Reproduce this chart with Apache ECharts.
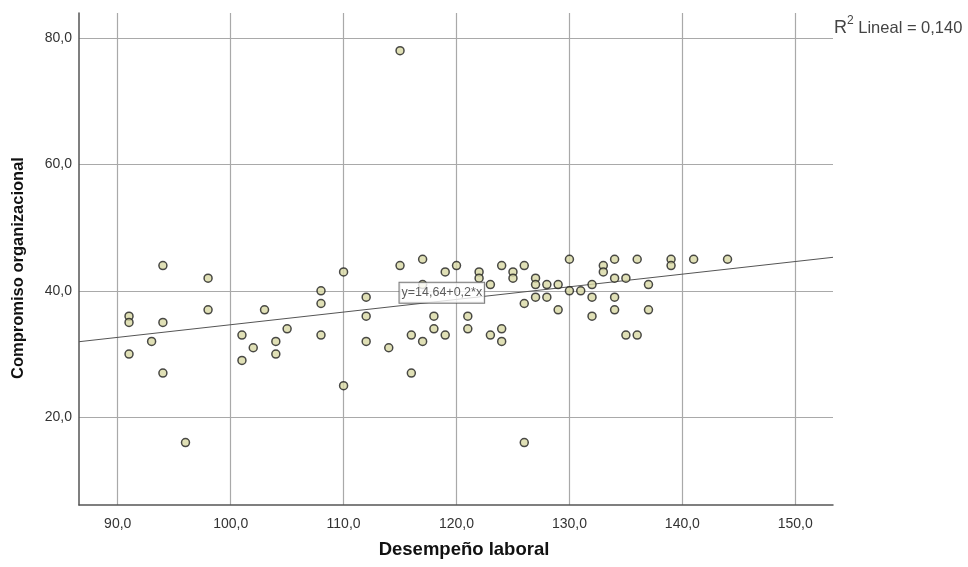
<!DOCTYPE html>
<html>
<head>
<meta charset="utf-8">
<title>Compromiso organizacional vs Desempeño laboral</title>
<script src="https://cdn.jsdelivr.net/npm/echarts@6/dist/echarts.min.js"></script>
<style>
  html, body { margin: 0; padding: 0; background: #ffffff; }
  #chart { width: 968px; height: 567px; }
</style>
</head>
<body>
<div id="chart"></div>
<script>
// Desempeño laboral (x) per respondent
const desempeno = [
  91, 91, 91, 93, 94, 94, 94, 96, 98, 98,
  101, 101, 102, 103, 104, 104, 105, 108, 108, 108,
  110, 110, 112, 112, 112, 114, 115, 115, 116, 116,
  117, 117, 117, 118, 118, 119, 119, 120, 121, 121,
  122, 122, 123, 123, 124, 124, 124, 125, 125, 126,
  126, 126, 127, 127, 127, 128, 128, 129, 129, 130,
  130, 131, 132, 132, 132, 133, 133, 134, 134, 134,
  134, 135, 135, 136, 136, 137, 137, 139, 139, 141,
  144
];
// Compromiso organizacional (y) per respondent
const compromiso = [
  36, 35, 30, 32, 44, 35, 27, 16, 42, 37,
  33, 29, 31, 37, 32, 30, 34, 40, 38, 33,
  43, 25, 39, 36, 32, 31, 78, 44, 33, 27,
  45, 41, 32, 36, 34, 43, 33, 44, 36, 34,
  43, 42, 41, 33, 44, 34, 32, 43, 42, 44,
  38, 16, 42, 41, 39, 41, 39, 41, 37, 45,
  40, 40, 41, 39, 36, 44, 43, 45, 42, 39,
  37, 42, 33, 45, 33, 41, 37, 45, 44, 45,
  45
];

// Axis tick labels
const xTicks = [90, 100, 110, 120, 130, 140, 150];
const yTicks = [20, 40, 60, 80];

// Linear fit: y = intercept + slope * x
const fitIntercept = 14.64;
const fitSlope = 0.2;
const fitLabel = 'y=14,64+0,2*x';
const fitLabelAt = [118.7, 39.7];
const r2Value = '0,140';

// Axis ranges
const xMin = 86.57, xMax = 153.34;
const yMin = 6.12, yMax = 83.96;

const points = desempeno.map((x, i) => [x, compromiso[i]]);
const fitLine = [xMin, xMax].map(x => [x, fitIntercept + fitSlope * x]);

const fmt = v => Number(v).toFixed(1).replace('.', ',');
const FONT = '"Liberation Sans", Arial, sans-serif';

const chart = echarts.init(document.getElementById('chart'), null, { renderer: 'canvas' });

chart.setOption({
  backgroundColor: '#ffffff',
  animation: false,
  grid: { left: 79, right: 135, top: 13, bottom: 62, containLabel: false },
  xAxis: {
    type: 'value',
    min: xMin,
    max: xMax,
    name: 'Desempeño laboral',
    nameLocation: 'middle',
    nameGap: 35,
    nameTextStyle: {
      fontFamily: FONT, fontSize: 18.5, fontWeight: 'bold', color: '#111',
      padding: [0, 0, 0, 16]
    },
    axisLine: { show: true, onZero: false, lineStyle: { color: '#555', width: 1.5 } },
    axisTick: { show: false, customValues: xTicks },
    axisLabel: {
      customValues: xTicks,
      formatter: fmt,
      margin: 12,
      fontFamily: FONT,
      fontSize: 14,
      color: '#333'
    },
    splitLine: { show: true, lineStyle: { color: '#a9a9a9', width: 1.2 } }
  },
  yAxis: {
    type: 'value',
    min: yMin,
    max: yMax,
    name: 'Compromiso organizacional',
    nameLocation: 'middle',
    nameGap: 52,
    nameTextStyle: {
      fontFamily: FONT, fontSize: 16.5, fontWeight: 'bold', color: '#111',
      padding: [0, 18, 0, 0]
    },
    axisLine: { show: true, onZero: false, lineStyle: { color: '#555', width: 1.5 } },
    axisTick: { show: false, customValues: yTicks },
    axisLabel: {
      customValues: yTicks,
      formatter: fmt,
      margin: 7,
      fontFamily: FONT,
      fontSize: 14,
      color: '#333'
    },
    splitLine: { show: true, lineStyle: { color: '#a9a9a9', width: 1.2 } }
  },
  graphic: [
    {
      type: 'text',
      left: 834,
      top: 15,
      style: {
        text: '{r|R}{s|2}{t| Lineal = ' + r2Value + '}',
        rich: {
          r: { fontFamily: FONT, fontSize: 18, fill: '#444', lineHeight: 22, verticalAlign: 'bottom' },
          s: { fontFamily: FONT, fontSize: 12, fill: '#444', lineHeight: 22, verticalAlign: 'top' },
          t: { fontFamily: FONT, fontSize: 16.5, fill: '#444', lineHeight: 22, verticalAlign: 'bottom' }
        }
      }
    }
  ],
  series: [
    {
      name: 'Ajuste lineal',
      type: 'line',
      data: fitLine,
      showSymbol: false,
      symbol: 'none',
      lineStyle: { color: '#555', width: 1 },
      z: 2,
      silent: true
    },
    {
      name: 'Observaciones',
      type: 'scatter',
      data: points,
      symbol: 'circle',
      symbolSize: 8,
      itemStyle: { color: '#d8d8a4', borderColor: '#1e1e1e', borderWidth: 1.5 },
      z: 3
    },
    {
      name: 'Ecuación',
      type: 'scatter',
      data: [fitLabelAt],
      symbolSize: 0,
      z: 4,
      silent: true,
      label: {
        show: true,
        position: 'inside',
        formatter: fitLabel,
        fontFamily: FONT,
        fontSize: 12.5,
        color: '#333',
        backgroundColor: '#ffffff',
        borderColor: '#555',
        borderWidth: 1,
        padding: [4, 2, 3, 2]
      }
    }
  ]
});
</script>
</body>
</html>
